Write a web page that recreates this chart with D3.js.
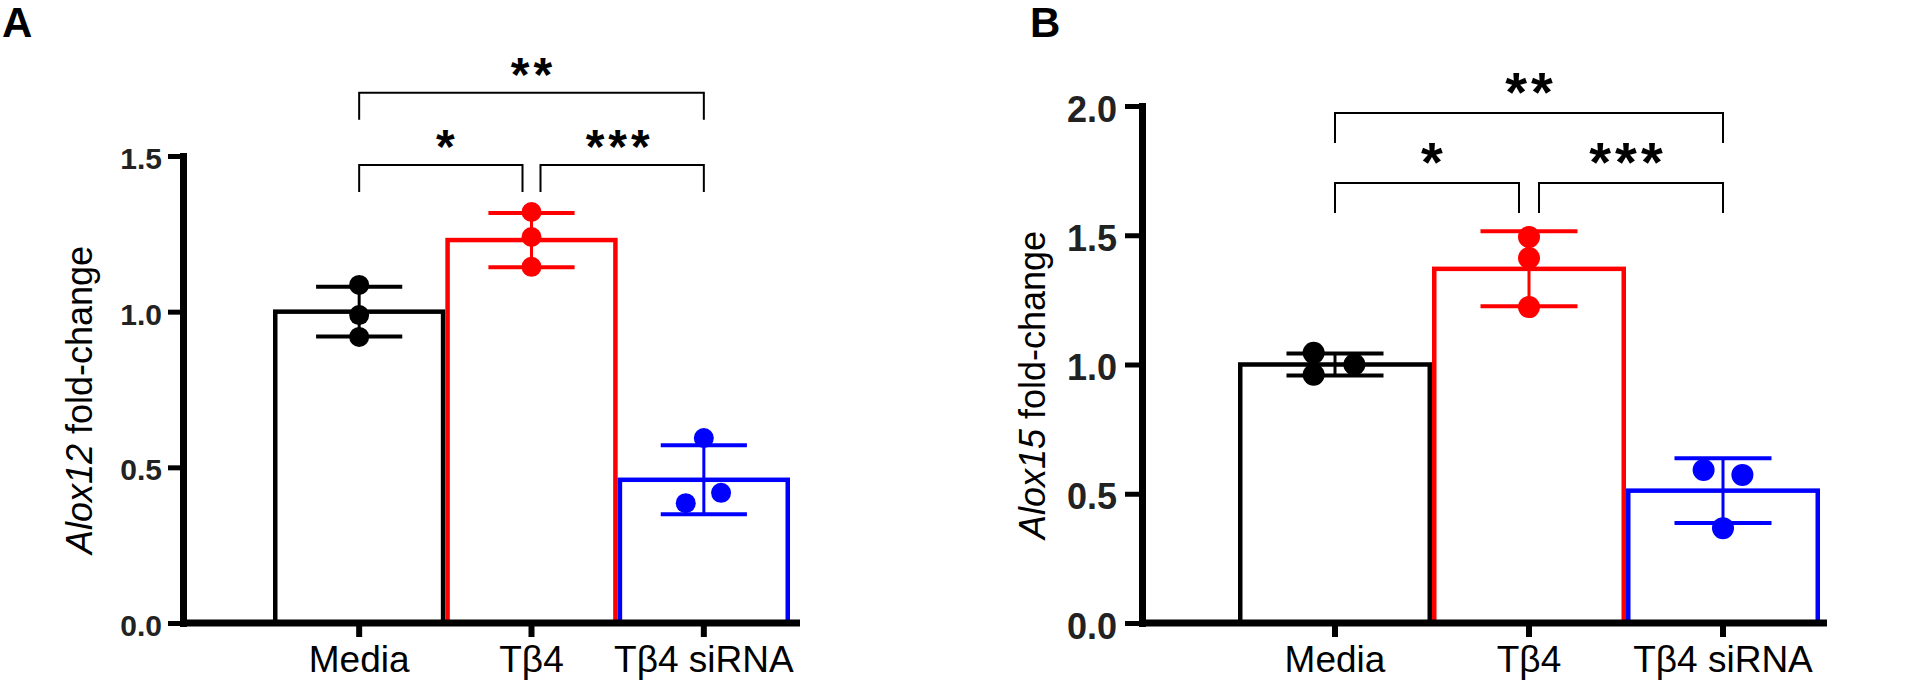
<!DOCTYPE html>
<html>
<head>
<meta charset="utf-8">
<script src="https://cdn.jsdelivr.net/npm/d3@7"></script>
<style>
  body { margin: 0; background: #fff; }
  svg { display: block; font-family: "Liberation Sans", Arial, sans-serif; }
</style>
</head>
<body>
<svg id="chart" width="1922" height="681"></svg>
<script>
var groups = ["Media", "Tβ4", "Tβ4 siRNA"];
var groupColors = ["#000000", "#ff0000", "#0000ff"];

// panel A : Alox12
var alox12Mean = [1.0, 1.23, 0.46];
var alox12Sd = [0.08, 0.087, 0.111];
var alox12Points = [[1.086, 0.989, 0.919], [1.32, 1.24, 1.144], [0.594, 0.385, 0.418]];
var alox12Jitter = [[0, 0, 0], [0, 0, 0], [0, -0.105, 0.1]];
var alox12Ticks = [0, 0.5, 1.0, 1.5];
// brackets: [from, to, level, label]
var alox12Sig = [[0, 2, 1.703, "**"], [0, 1, 1.471, "*"], [1, 2, 1.471, "***"]];

// panel B : Alox15
var alox15Mean = [1.0, 1.37, 0.512];
var alox15Sd = [0.043, 0.145, 0.125];
var alox15Points = [[1.045, 0.96, 1.0], [1.493, 1.412, 1.222], [0.592, 0.573, 0.367]];
var alox15Jitter = [[-0.11, -0.11, 0.1], [0, 0, 0], [-0.1, 0.1, 0]];
var alox15Ticks = [0, 0.5, 1.0, 1.5, 2.0];
var alox15Sig = [[0, 2, 1.973, "**"], [0, 1, 1.702, "*"], [1, 2, 1.702, "***"]];

var svg = d3.select("#chart");

function drawPanel(p) {
  var g = svg.append("g");

  var x = d3.scaleBand()
    .domain(groups)
    .range([p.barX0, p.barX1])
    .padding(0);

  var y = d3.scaleLinear()
    .domain([0, p.yMax])
    .range([p.y0, p.yTop]);

  var bw = x.bandwidth();
  var sw = 4.5;

  // bars
  g.selectAll("rect.bar")
    .data(groups)
    .enter().append("rect")
    .attr("class", "bar")
    .attr("x", function (d) { return x(d) + sw / 2; })
    .attr("y", function (d, i) { return y(p.mean[i]); })
    .attr("width", bw - sw)
    .attr("height", function (d, i) { return y(0) - y(p.mean[i]); })
    .attr("fill", "#fff")
    .attr("stroke", function (d, i) { return groupColors[i]; })
    .attr("stroke-width", sw);

  // error bars (mean +/- SD)
  var eb = g.selectAll("g.err")
    .data(groups)
    .enter().append("g")
    .attr("class", "err")
    .attr("stroke", function (d, i) { return groupColors[i]; });

  eb.append("line")
    .attr("x1", function (d) { return x(d) + bw / 2; })
    .attr("x2", function (d) { return x(d) + bw / 2; })
    .attr("y1", function (d, i) { return y(p.mean[i] - p.sd[i]); })
    .attr("y2", function (d, i) { return y(p.mean[i] + p.sd[i]); })
    .attr("stroke-width", 3);

  [-1, 1].forEach(function (s) {
    eb.append("line")
      .attr("x1", function (d) { return x(d) + bw / 4; })
      .attr("x2", function (d) { return x(d) + bw * 3 / 4; })
      .attr("y1", function (d, i) { return y(p.mean[i] + s * p.sd[i]); })
      .attr("y2", function (d, i) { return y(p.mean[i] + s * p.sd[i]); })
      .attr("stroke-width", 4);
  });

  // individual points
  groups.forEach(function (grp, i) {
    g.selectAll(null)
      .data(p.points[i])
      .enter().append("circle")
      .attr("cx", function (d, j) { return x(grp) + bw / 2 + p.jitter[i][j] * bw; })
      .attr("cy", function (d) { return y(d); })
      .attr("r", p.r)
      .attr("fill", groupColors[i]);
  });

  // y axis
  var yAxis = g.append("g")
    .attr("transform", "translate(" + p.axisX + ",0)")
    .call(d3.axisLeft(y).tickValues(p.ticks).tickFormat(d3.format(".1f"))
      .tickSize(p.tickLen).tickSizeOuter(0).tickPadding(p.tickPad));
  yAxis.select(".domain").attr("stroke-width", 7).attr("stroke-linecap", "square");
  yAxis.selectAll(".tick line").attr("stroke-width", 5);
  yAxis.selectAll(".tick text")
    .attr("font-family", "'Liberation Sans', Arial, sans-serif")
    .attr("font-size", p.tickFont)
    .attr("font-weight", "bold")
    .attr("fill", "#222")
    .attr("dy", "0.42em");

  // x axis
  g.append("line")
    .attr("x1", p.axisX).attr("x2", p.axisRight)
    .attr("y1", y(0)).attr("y2", y(0))
    .attr("stroke", "#000").attr("stroke-width", 7);

  var xAxis = g.append("g")
    .attr("transform", "translate(0," + y(0) + ")")
    .call(d3.axisBottom(x).tickSize(14).tickPadding(9));
  xAxis.select(".domain").remove();
  xAxis.selectAll(".tick line").attr("stroke-width", 6);
  xAxis.selectAll(".tick text")
    .attr("font-family", "'Liberation Sans', Arial, sans-serif")
    .attr("font-size", 37)
    .attr("fill", "#000");

  // y title
  var t = g.append("text")
    .attr("transform", "translate(" + p.titleX + "," + p.titleY + ") rotate(-90)")
    .attr("text-anchor", "middle")
    .attr("font-size", 36);
  t.append("tspan").attr("font-style", "italic").text(p.gene);
  t.append("tspan").text(" fold-change");

  // significance brackets
  function cx(i) { return x(groups[i]) + bw / 2; }
  p.sig.forEach(function (s) {
    var xa = cx(s[0]) + (s[0] == 1 ? p.gap : 0);
    var xb = cx(s[1]) - (s[1] == 1 ? p.gap : 0);
    var yy = y(s[2]);
    g.append("path")
      .attr("d", "M" + xa + "," + (yy + p.legDrop) + "V" + yy + "H" + xb + "V" + (yy + p.legDrop))
      .attr("fill", "none")
      .attr("stroke", "#000")
      .attr("stroke-width", 2);
    g.append("text")
      .attr("x", (cx(s[0]) + cx(s[1])) / 2 + p.starSpacing / 2)
      .attr("y", yy - p.starLift)
      .attr("text-anchor", "middle")
      .attr("font-weight", "bold")
      .attr("font-size", p.starFont)
      .attr("letter-spacing", p.starSpacing)
      .text(s[3]);
  });

  // panel letter
  svg.append("text")
    .attr("x", p.letterX)
    .attr("y", 37)
    .attr("font-size", 42)
    .attr("font-weight", "bold")
    .text(p.letter);
}

drawPanel({
  letter: "A", letterX: 2, gene: "Alox12",
  mean: alox12Mean, sd: alox12Sd, points: alox12Points, jitter: alox12Jitter,
  ticks: alox12Ticks, sig: alox12Sig, yMax: 1.5,
  barX0: 273, barX1: 790, axisX: 183, axisRight: 800, y0: 623, yTop: 156,
  tickLen: 15, tickPad: 6, tickFont: 30, r: 10,
  titleX: 92, titleY: 400, gap: 9, legDrop: 27,
  starFont: 48, starSpacing: 4, starLift: 2
});

drawPanel({
  letter: "B", letterX: 1030, gene: "Alox15",
  mean: alox15Mean, sd: alox15Sd, points: alox15Points, jitter: alox15Jitter,
  ticks: alox15Ticks, sig: alox15Sig, yMax: 2.0,
  barX0: 1238, barX1: 1820, axisX: 1142, axisRight: 1827, y0: 623, yTop: 106,
  tickLen: 17, tickPad: 8, tickFont: 36, r: 11,
  titleX: 1045, titleY: 385, gap: 10, legDrop: 30,
  starFont: 56, starSpacing: 4, starLift: 2
});
</script>
</body>
</html>
